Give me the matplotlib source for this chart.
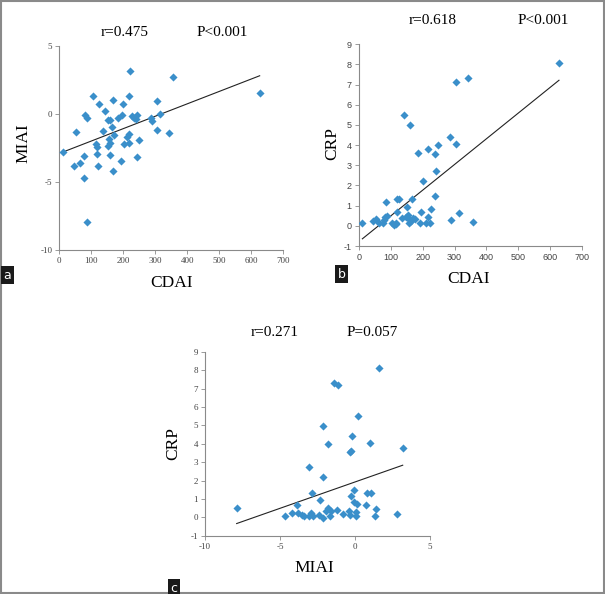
import numpy as np
import matplotlib
matplotlib.use("Agg")
import matplotlib.pyplot as plt
from matplotlib.patches import Rectangle

plt.rcParams["axes.unicode_minus"] = False

# ---- panel a: CDAI vs MIAI
cdai_a = [12, 46, 53, 65, 76, 78, 81, 87, 88, 105, 115, 117, 119, 120, 125, 142,
          137, 153, 158, 151, 154, 160, 159, 167, 166, 172, 167, 185, 192, 195,
          198, 202, 217, 221, 211, 218, 219, 229, 234, 242, 240, 248, 244, 286,
          291, 306, 307, 316, 343, 357, 627]
miai_a = [-2.8, -3.86, -1.3, -3.6, -3.08, -4.74, -0.05, -0.3, -7.96, 1.3, -2.2,
          -2.44, -2.93, -3.86, 0.71, 0.2, -1.22, -0.42, -0.46, -2.37, -1.83,
          -2.15, -2.98, 1.05, -0.93, -1.56, -4.2, -0.3, -3.42, -0.05, 0.71, -2.2,
          1.32, 3.13, -1.71, -1.47, -2.1, -0.12, -0.32, -0.05, -0.37, -1.88,
          -3.15, -0.3, -0.54, 0.98, -1.2, 0.0, -1.42, 2.69, 1.54]
fit_a = (0.00911, -2.90)   # slope, intercept
stats_a = ("r=0.475", "P<0.001")

# ---- panel b: CDAI vs CRP
cdai_b = [11.5, 46, 53, 65, 75, 78, 83, 85.5, 87.6, 104, 111.6, 115.7, 117, 120,
          120, 127, 135.6, 142, 148, 150, 155, 156, 160.6, 160.6, 164, 169, 168,
          176, 184.6, 192, 196, 202, 210.6, 216, 218, 223, 227, 238, 240, 243,
          247, 286, 290, 304.5, 304.5, 315, 343, 357, 627]
crp_b = [0.12, 0.24, 0.34, 0.12, 0.16, 0.29, 0.42, 1.17, 0.49, 0.12, 0.04, 0.09,
         0.16, 0.69, 1.33, 1.31, 0.37, 5.5, 0.45, 0.95, 0.54, 0.16, 4.98, 0.29,
         0.22, 0.37, 1.31, 0.34, 3.6, 0.12, 0.69, 2.22, 0.12, 0.42, 3.79, 0.12,
         0.82, 3.55, 1.5, 2.72, 3.99, 4.4, 0.27, 7.15, 4.07, 0.65, 7.31, 0.17,
         8.07]
fit_b = (0.01277, -0.79)
stats_b = ("r=0.618", "P<0.001")

# ---- panel c: MIAI vs CRP
miai_c = [-7.89, -4.69, -4.18, -3.84, -3.82, -3.56, -3.38, -3.09, -3.04, -2.91,
          -2.84, -2.78, -2.38, -2.31, -2.16, -2.11, -2.11, -1.96, -1.82, -1.78,
          -1.67, -1.6, -1.38, -1.16, -1.22, -0.82, -0.4, -0.36, -0.27, -0.22,
          -0.27, -0.36, -0.04, -0.04, 0.04, 0.04, 0.11, 0.22, 0.73, 0.78, 1.0,
          1.07, 1.36, 1.4, 1.62, 2.78, 3.18]
crp_c = [0.49, 0.07, 0.22, 0.69, 0.22, 0.13, 0.07, 2.75, 0.07, 0.22, 1.32, 0.07,
         0.13, 0.94, 2.21, 4.98, -0.04, 0.36, 3.99, 0.49, 0.07, 0.36, 7.32, 7.17,
         0.4, 0.2, 0.33, 3.57, 3.62, 4.4, 1.18, 0.13, 1.49, 0.82, 0.27, 0.07,
         0.71, 5.53, 0.67, 1.34, 4.06, 1.34, 0.07, 0.47, 8.1, 0.18, 3.79]
fit_c = (0.2864, 1.92)
stats_c = ("r=0.271", "P=0.057")

W, H = 605, 594
BLUE = "#3a8fca"
GREY = "#8a8a8a"
SERIF = "Liberation Serif"


def px(x, y):
    return x / W, 1 - y / H


def axes_px(l, t, r, b):
    return [l / W, 1 - b / H, (r - l) / W, (b - t) / H]


def panel(fig, rect, x, y, fit, stats, xlim, ylim, xticks, yticks,
          stat_x, stat_y, tickfont):
    ax = fig.add_axes(rect)
    ax.scatter(x, y, marker="D", s=17, color=BLUE, linewidths=0, zorder=3)
    xs = np.array([min(x), max(x)])
    ax.plot(xs, fit[0] * xs + fit[1], color="#222222", lw=0.8, zorder=2)
    ax.set_xlim(*xlim); ax.set_ylim(*ylim)
    ax.set_xticks(xticks); ax.set_yticks(yticks)
    for s in ("top", "right"):
        ax.spines[s].set_visible(False)
    for s in ("left", "bottom"):
        ax.spines[s].set_color(GREY); ax.spines[s].set_linewidth(0.8)
    ax.tick_params(direction="out", length=3, width=0.6, color=GREY,
                   labelsize=6.5, labelcolor="#444444", pad=2)
    for lab in ax.get_xticklabels() + ax.get_yticklabels():
        lab.set_family(tickfont)
    ax.patch.set_alpha(0)
    ax.text(stat_x[0], stat_y, stats[0], transform=ax.transAxes, ha="center",
            va="center", family=SERIF, fontsize=11)
    ax.text(stat_x[1], stat_y, stats[1], transform=ax.transAxes, ha="center",
            va="center", family=SERIF, fontsize=11)
    return ax


def tag(fig, cx, cy, letter):
    fig.text(*px(cx, cy), letter, ha="center", va="center", color="white",
             fontsize=9, family="DejaVu Sans",
             bbox=dict(boxstyle="square,pad=0.2", fc="#1a1a1a", ec="none"))


fig = plt.figure(figsize=(W / 100, H / 100), dpi=100)

panel(fig, axes_px(59.3, 46, 283, 250), cdai_a, miai_a, fit_a, stats_a,
      (0, 700), (-10, 5), range(0, 701, 100), [-10, -5, 0, 5],
      (0.294, 0.727), 1.064, SERIF)
panel(fig, axes_px(358.7, 44.3, 582.3, 246), cdai_b, crp_b, fit_b, stats_b,
      (0, 700), (-1, 9), range(0, 701, 100), range(-1, 10),
      (0.332, 0.824), 1.116, "Liberation Sans")
panel(fig, axes_px(205, 351.7, 430, 535.7), miai_c, crp_c, fit_c, stats_c,
      (-10, 5), (-1, 9), [-10, -5, 0, 5], range(-1, 10),
      (0.311, 0.742), 1.102, SERIF)

# axis titles
fig.text(*px(23, 143), "MIAI", rotation=90, ha="center", va="center",
         family=SERIF, fontsize=12.5)
fig.text(*px(172, 283), "CDAI", ha="center", va="center", family=SERIF,
         fontsize=12.5)
fig.text(*px(332, 143), "CRP", rotation=90, ha="center", va="center",
         family=SERIF, fontsize=12.5)
fig.text(*px(469, 279), "CDAI", ha="center", va="center", family=SERIF,
         fontsize=12.5)
fig.text(*px(173, 443), "CRP", rotation=90, ha="center", va="center",
         family=SERIF, fontsize=12.5)
fig.text(*px(314, 568), "MIAI", ha="center", va="center", family=SERIF,
         fontsize=12.5)

tag(fig, 7.5, 275, "a")
tag(fig, 341.5, 274, "b")
tag(fig, 174, 588, "c")

# outer grey frame
fig.patches.append(Rectangle((0.001, 0.001), 0.997, 0.997, transform=fig.transFigure,
                             fill=False, ec=GREY, lw=1.5))

fig.savefig("out.png", dpi=100)
